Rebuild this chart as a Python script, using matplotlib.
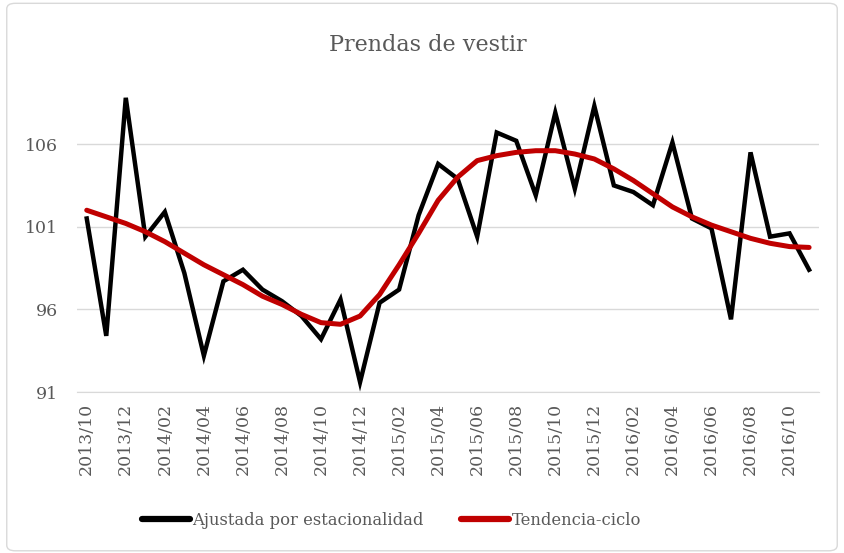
import matplotlib.pyplot as plt
from matplotlib.patches import FancyBboxPatch

plt.rcParams['font.family'] = ['DejaVu Serif']

# months 2013/10 .. 2016/11
months = []
for y in range(2013, 2017):
    for m in range(1, 13):
        if (y == 2013 and m < 10) or (y == 2016 and m > 11):
            continue
        months.append('%d/%02d' % (y, m))

ajustada = [101.5, 94.4, 108.8, 100.4, 101.9, 98.2, 93.2, 97.7, 98.4, 97.2,
            96.5, 95.6, 94.2, 96.6, 91.6, 96.4, 97.2, 101.7, 104.8, 103.9,
            100.4, 106.7, 106.2, 102.9, 107.9, 103.3, 108.3, 103.5, 103.1, 102.3,
            106.1, 101.5, 100.9, 95.4, 105.5, 100.4, 100.6, 98.4]
tendencia = [102.0, 101.6, 101.2, 100.7, 100.1, 99.4, 98.7, 98.1, 97.5, 96.8,
             96.3, 95.7, 95.2, 95.1, 95.6, 96.9, 98.7, 100.6, 102.6, 104.0,
             105.0, 105.3, 105.5, 105.6, 105.6, 105.4, 105.1, 104.5, 103.8, 103.0,
             102.2, 101.6, 101.1, 100.7, 100.3, 100.0, 99.8, 99.75]

grey = '#595959'
fig = plt.figure(figsize=(8.44, 5.53), dpi=100)
ax = fig.add_axes([0.0912, 0.291, 0.879, 0.571])

x = list(range(len(months)))
ax.plot(x, ajustada, color='black', lw=3.2, label='Ajustada por estacionalidad',
        solid_joinstyle='miter', zorder=3)
ax.plot(x, tendencia, color='#c00000', lw=3.6, label='Tendencia-ciclo',
        solid_capstyle='round', zorder=4)

ax.set_xlim(-0.5, len(months) - 0.5)
ax.set_ylim(91, 110.1)
ax.set_yticks([91, 96, 101, 106])
ax.set_xticks(x[::2])
ax.set_xticklabels(months[::2], rotation=90, ha='center', va='top', fontsize=13.3)
ax.grid(axis='y', color='#d9d9d9', lw=1)
ax.set_axisbelow(True)
for s in ['top', 'right', 'left']:
    ax.spines[s].set_visible(False)
ax.spines['bottom'].set_color('#d9d9d9')
ax.tick_params(length=0, colors=grey, labelsize=12.5)
ax.tick_params(axis='y', pad=14)
ax.tick_params(axis='x', pad=8)

fig.text(0.507, 0.918, 'Prendas de vestir', ha='center', va='center',
         fontsize=16, color=grey)

leg = fig.legend(loc='center', bbox_to_anchor=(0.464, 0.059), ncol=2, frameon=False,
                 fontsize=11.8, handlelength=2.9, handletextpad=0.15, columnspacing=2.3)
for t in leg.get_texts():
    t.set_color(grey)
for h in leg.get_lines():
    h.set_linewidth(4.5)
    h.set_solid_capstyle('round')

fig.patches.append(FancyBboxPatch((0.008, 0.004), 0.984, 0.99, boxstyle='round,pad=0,rounding_size=0.01',
                                  transform=fig.transFigure, fill=False, ec='#d9d9d9', lw=1))

fig.savefig('out.png', dpi=100)
